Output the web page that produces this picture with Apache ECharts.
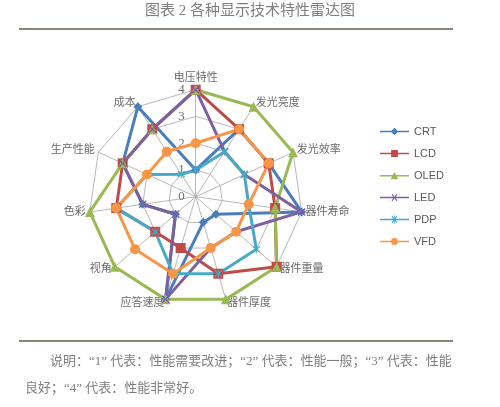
<!DOCTYPE html>
<html>
<head>
<meta charset="utf-8">
<script src="https://cdn.jsdelivr.net/npm/echarts@6/dist/echarts.min.js"></script>
<style>
html,body{margin:0;padding:0;background:#fff;}
#c{width:500px;height:407px;}
</style>
</head>
<body>
<div id="c"></div>
<script>
const indicators = ['电压特性','发光亮度','发光效率','器件寿命','器件重量','器件厚度','应答速度','视角','色彩','生产性能','成本'];
const seriesNames = ['CRT','LCD','OLED','LED','PDP','VFD'];
const CRT  = [1,3,3,4,1,1,4,1,2,3,4];
const LCD  = [4,3,3,3,4,3,2,2,3,3,3];
const OLED = [4,4,4,3,4,4,4,4,4,3,3];
const LED  = [4,2,2,4,2,2,4,1,2,3,3];
const PDP  = [1,2,2,2,3,3,3,2,3,2,1];
const VFD  = [2,3,3,2,2,2,3,3,3,2,2];
const axisMax = 4;
const titleText = '图表 2 各种显示技术特性雷达图';
const noteLine1 = '说明：“1” 代表：性能需要改进；“2” 代表：性能一般；“3” 代表：性能';
const noteLine2 = '良好；“4” 代表：性能非常好。';

const colors = ['#4a7ebb','#be4b48','#98b954','#7d60a0','#46aac5','#f79646'];
const xPath = 'path://M0,1.2 L1.2,0 L5,3.8 L8.8,0 L10,1.2 L6.2,5 L10,8.8 L8.8,10 L5,6.2 L1.2,10 L0,8.8 L3.8,5 Z';
const starPath = 'path://M0,1.2 L1.2,0 L5,3.8 L8.8,0 L10,1.2 L6.2,5 L10,8.8 L8.8,10 L5,6.2 L1.2,10 L0,8.8 L3.8,5 Z M4.3,-1 L5.7,-1 L5.7,11 L4.3,11 Z';
const symbols = ['diamond','rect','triangle',xPath,starPath,'circle'];
const symbolSizes = [9,10,10,8,8,10];
const legendIcons = [
  'path://M0,4.2 L30,4.2 L30,5.8 L0,5.8 Z M15,1 L19,5 L15,9 L11,5 Z',
  'path://M0,4.2 L30,4.2 L30,5.8 L0,5.8 Z M11.5,1.5 L18.5,1.5 L18.5,8.5 L11.5,8.5 Z',
  'path://M0,4.2 L30,4.2 L30,5.8 L0,5.8 Z M15,1 L19,8.5 L11,8.5 Z',
  'path://M0,4.2 L30,4.2 L30,5.8 L0,5.8 Z M12,1.8 L12.8,1 L15,4.2 L17.2,1 L18,1.8 L15.8,5 L18,8.2 L17.2,9 L15,5.8 L12.8,9 L12,8.2 L14.2,5 Z',
  'path://M0,4.2 L30,4.2 L30,5.8 L0,5.8 Z M12,1.8 L12.8,1 L15,4.2 L17.2,1 L18,1.8 L15.8,5 L18,8.2 L17.2,9 L15,5.8 L12.8,9 L12,8.2 L14.2,5 Z M14.6,0.5 L15.4,0.5 L15.4,9.5 L14.6,9.5 Z',
  'path://M0,4.2 L30,4.2 L30,5.8 L0,5.8 Z M15,1.5 A3.5,3.5 0 1 1 14.99,1.5 Z'
];
const allData = [CRT, LCD, OLED, LED, PDP, VFD];

// ECharts lays indicators counter-clockwise; reorder so they run clockwise from the top
const order = [0].concat(indicators.map((_, i) => i).slice(1).reverse());

const chart = echarts.init(document.getElementById('c'), null, {renderer:'canvas'});
const serifFont = "'Liberation Serif','Noto Sans CJK SC',serif";

const indicatorOpts = order.map((idx, k) => {
  const o = {name: indicators[idx], min: 0, max: axisMax};
  if (k === 0) {
    o.axisLabel = {show: true, color: '#6f6f6f', fontSize: 13, fontFamily: serifFont, margin: 11};
  }
  return o;
});

const series = [{
  type: 'radar',
  data: seriesNames.map((nm, i) => ({
    name: nm,
    value: order.map(idx => allData[i][idx]),
    symbol: symbols[i],
    symbolSize: symbolSizes[i],
    itemStyle: {color: colors[i]},
    lineStyle: {color: colors[i], width: 3}
  }))
}];

chart.setOption({
  animation: false,
  color: colors,
  legend: {
    orient: 'vertical',
    left: 380,
    top: 126,
    padding: 0,
    itemWidth: 29,
    itemHeight: 10,
    itemGap: 11,
    textStyle: {color: '#595959', fontSize: 11, fontFamily: "'Liberation Sans','Noto Sans',sans-serif"},
    data: seriesNames.map((nm, i) => ({name: nm, icon: legendIcons[i], itemStyle: {color: colors[i]}}))
  },
  radar: {
    center: ['39.14%', '48.33%'],
    radius: 107,
    shape: 'polygon',
    splitNumber: 4,
    startAngle: 90,
    nameGap: 4,
    axisName: {color: '#6a6a6a', fontSize: 11, fontFamily: serifFont},
    axisLine: {lineStyle: {color: '#a6a6a6', width: 0.8}},
    splitLine: {lineStyle: {color: '#a6a6a6', width: 0.8}},
    splitArea: {show: false},
    axisLabel: {show: false},
    indicator: indicatorOpts
  },
  series: series,
  graphic: [
    {type: 'text', left: 'center', top: 4, style: {text: titleText, fill: '#7f7f7f', font: "15px " + serifFont}},
    {type: 'line', shape: {x1: 19, y1: 29, x2: 453, y2: 29}, style: {stroke: '#8a8575', lineWidth: 2}},
    {type: 'line', shape: {x1: 19, y1: 341, x2: 453, y2: 341}, style: {stroke: '#8a8575', lineWidth: 2}},
    {type: 'text', left: 50, top: 355, style: {text: noteLine1, fill: '#7f7f7f', font: "13px " + serifFont}},
    {type: 'text', left: 25, top: 382, style: {text: noteLine2, fill: '#7f7f7f', font: "13px " + serifFont}}
  ]
});
</script>
</body>
</html>
